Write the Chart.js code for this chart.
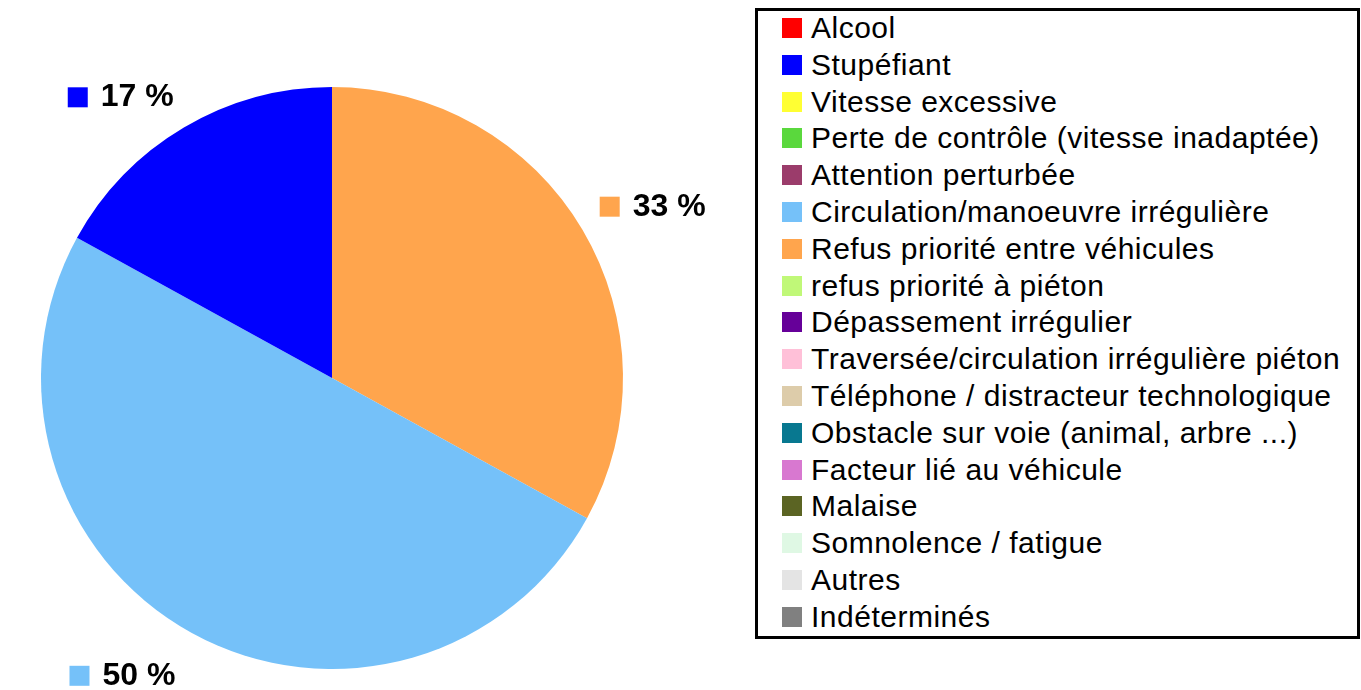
<!DOCTYPE html>
<html>
<head>
<meta charset="utf-8">
<script src="https://cdn.jsdelivr.net/npm/chart.js@4/dist/chart.umd.min.js"></script>
<style>
  body { margin: 0; background: #fff; }
  #wrap { position: relative; width: 1361px; height: 690px; overflow: hidden; }
  #chart { position: absolute; left: 0; top: 0; }
  #legend {
    position: absolute; left: 755px; top: 8px; width: 605px; height: 631px;
    box-sizing: border-box; border: 3px solid #000; background: #fff;
  }
  .row { position: absolute; left: 0; height: 36px; font-family: "Liberation Sans", Arial, sans-serif; font-size: 30px; letter-spacing: 0.5px; color: #000; white-space: nowrap; }
  .row .key { position: absolute; left: 24px; top: 8px; width: 20px; height: 20px; }
  .row .txt { position: absolute; left: 53px; top: 0; line-height: 36px; }
</style>
</head>
<body>
<div id="wrap">
  <canvas id="chart" width="1361" height="690"></canvas>
  <div id="legend"></div>
</div>
<script>
var categories = [
  'Alcool',
  'Stupéfiant',
  'Vitesse excessive',
  'Perte de contrôle (vitesse inadaptée)',
  'Attention perturbée',
  'Circulation/manoeuvre irrégulière',
  'Refus priorité entre véhicules',
  'refus priorité à piéton',
  'Dépassement irrégulier',
  'Traversée/circulation irrégulière piéton',
  'Téléphone / distracteur technologique',
  'Obstacle sur voie (animal, arbre ...)',
  'Facteur lié au véhicule',
  'Malaise',
  'Somnolence / fatigue',
  'Autres',
  'Indéterminés'
];

var percents = [0, 17, 0, 0, 0, 50, 33, 0, 0, 0, 0, 0, 0, 0, 0, 0, 0];

var colors = [
  '#ff0000', '#0000ff', '#ffff33', '#5ad83d', '#9b3c6b', '#75c1f9',
  '#ffa54d', '#c0f878', '#660099', '#ffc0d8', '#ddccaa', '#087890',
  '#d878d0', '#5b6423', '#dff8e4', '#e4e4e4', '#808080'
];

// build the legend box
var legendEl = document.getElementById('legend');
for (var i = 0; i < categories.length; i++) {
  var row = document.createElement('div');
  row.className = 'row';
  row.style.top = (28 + 36.8 * i - 18 - 11) + 'px';
  var key = document.createElement('div');
  key.className = 'key';
  key.style.background = colors[i];
  var txt = document.createElement('div');
  txt.className = 'txt';
  txt.textContent = categories[i];
  row.appendChild(key);
  row.appendChild(txt);
  legendEl.appendChild(row);
}

// the original pie runs counter-clockwise, so feed it reversed
var pieLabels = categories.slice().reverse();
var pieData = percents.slice().reverse();
var pieColors = colors.slice().reverse();

var outsideLabels = {
  id: 'outsideLabels',
  afterDatasetsDraw: function(chart) {
    var ctx = chart.ctx;
    var meta = chart.getDatasetMeta(0);
    ctx.save();
    ctx.font = 'bold 32px "Liberation Sans", Arial, sans-serif';
    ctx.textBaseline = 'middle';
    ctx.textAlign = 'left';
    meta.data.forEach(function(arc, idx) {
      var v = pieData[idx];
      if (!v) return;
      var mid = (arc.startAngle + arc.endAngle) / 2;
      var dx = Math.cos(mid), dy = Math.sin(mid);
      var gap = dy > 0 ? 34 : 20;
      var r = arc.outerRadius + gap;
      var px = arc.x + dx * r;
      var py = arc.y + dy * r;
      var text = v + ' %';
      var w = 20 + 13 + ctx.measureText(text).width;
      var h = 26;
      var left = dx < 0 ? px - w : px;
      var top = dy < 0 ? py - h : py;
      ctx.fillStyle = pieColors[idx];
      ctx.fillRect(left, top + 3, 20, 20);
      ctx.fillStyle = '#000';
      ctx.fillText(text, left + 33, top + h / 2);
    });
    ctx.restore();
  }
};

new Chart(document.getElementById('chart'), {
  type: 'pie',
  data: {
    labels: pieLabels,
    datasets: [{
      data: pieData,
      backgroundColor: pieColors,
      borderWidth: 0
    }]
  },
  options: {
    responsive: false,
    animation: false,
    layout: { padding: { left: 40, right: 737, top: 87, bottom: 21 } },
    plugins: {
      legend: { display: false },
      tooltip: { enabled: false }
    }
  },
  plugins: [outsideLabels]
});
</script>
</body>
</html>
